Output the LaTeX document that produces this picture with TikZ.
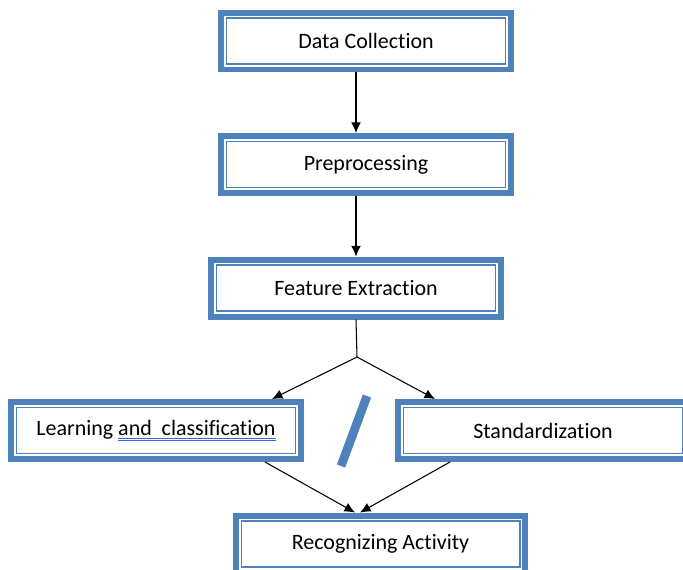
\documentclass[tikz,border=0pt]{standalone}
\usepackage{fontspec}
\setmainfont[Ligatures=NoCommon]{Carlito}
\usepackage{xcolor}
\usepackage{tikz}
\usetikzlibrary{arrows.meta}
\definecolor{boxblue}{RGB}{79,129,189}
\definecolor{gramblue}{RGB}{60,100,220}
\newcommand{\gramline}[1]{\leavevmode\setbox0\hbox{#1}%
  \rlap{\textcolor{gramblue}{\rule[-1.3pt]{\wd0}{0.35pt}}}%
  \rlap{\textcolor{gramblue}{\rule[-2.5pt]{\wd0}{0.35pt}}}\box0}
\tikzset{
    stepbox/.style={rectangle, draw=boxblue, line width=0.12cm, fill=white, minimum width=5.8cm, minimum height=1.14cm, font=\fontsize{12.5}{15}\selectfont, text=black},
    innerline/.style={draw=boxblue, line width=0.6pt},
    line/.style={draw, line width=0.6pt, -{Latex[length=6pt,width=5.5pt]}},
    slash/.style={draw=boxblue, line width=5pt}
}

\begin{document}
\begin{tikzpicture}[x=0.02cm, y=-0.02cm]
    \clip (0,0) rectangle (683,569);
    % Stage 1: data
    \node[stepbox] (collect) at (366,41) {Data Collection};
    % Stage 2: cleaning
    \node[stepbox] (prep) at (366,164.5) {Preprocessing};
    % Stage 3: features
    \node[stepbox] (feat) at (356,288) {Feature Extraction};
    % Stage 4: two alternatives
    \node[stepbox] (learn) at (156,430.5) {Learning \gramline{and\ \ classification}};
    \node[stepbox] (std) at (543,430.5) {Standardization};
    % Stage 5: result
    \node[stepbox] (recog) at (380.5,544) {Recognizing Activity};
    
    % inner frame of every box
    \foreach \n in {collect,prep,feat,learn,std,recog}
        \draw[innerline] ([shift={(0.17cm,0.17cm)}]\n.south west) rectangle ([shift={(-0.17cm,-0.17cm)}]\n.north east);
    
    % either / or mark
    \draw[slash] (367,396) -- (341,466);
    
    \coordinate (split) at (357,357);
    
    \draw[line] (collect.south -| feat.north) -- (prep.north -| feat.north);
    \draw[line] (prep.south -| feat.north) -- (feat.north);
    \draw[line width=0.6pt] (feat.south) -- (split);
    \draw[line] (split) -- ([xshift=-0.64cm]learn.north east);
    \draw[line] (split) -- ([xshift=0.8cm]std.north west);
    \draw[line] ([xshift=2.18cm]learn.south) -- ([xshift=-0.51cm]recog.north);
    \draw[line] ([xshift=-1.86cm]std.south) -- ([xshift=-0.41cm]recog.north);
\end{tikzpicture}
\end{document}
